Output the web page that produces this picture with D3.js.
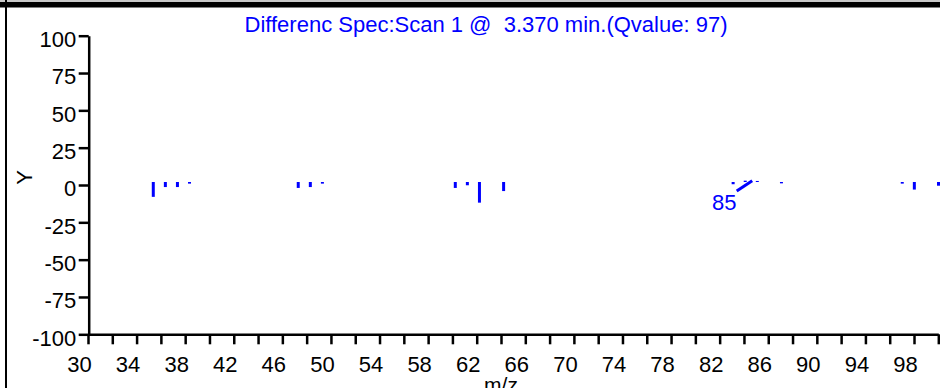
<!DOCTYPE html>
<html>
<head>
<meta charset="utf-8">
<script src="https://cdn.jsdelivr.net/npm/d3@7"></script>
<style>
  html, body { margin: 0; padding: 0; background: #fff; }
  svg { display: block; }
</style>
</head>
<body>
<svg id="chart" width="940" height="388"></svg>
<script>
// Difference spectrum: m/z of each peak and its signed relative intensity
const mzValues   = [36, 37, 38, 39, 48, 49, 50, 61, 62, 63, 65, 84, 85, 86, 88, 98, 99, 101];
const diffValues = [-10, -3.4, -3.4, -1.1, -4, -3.4, -1.1, -4, -2.2, -13.9, -6.1, -1.5, 0.9, 0.7, -0.9, -1.1, -5.1, -2.5];

// Axis ticks
const yTickValues  = [100, 75, 50, 25, 0, -25, -50, -75, -100];
const xMinorTicks  = d3.range(30, 101, 2);
const xTickLabels  = d3.range(30, 99, 4);

// Annotated peak
const labelledPeak = 85;

const titleText = "Differenc Spec:Scan 1 @  3.370 min.(Qvalue: 97)";
const xTitle = "m/z";
const yTitle = "Y";

const BLUE = "#0000ff";
const FONT = "'Liberation Sans', Arial, sans-serif";

const svg = d3.select("#chart");

// Frame: thick rule across the top, thin rule down the left
svg.append("rect").attr("x", 0).attr("y", 0).attr("width", 940).attr("height", 2).attr("fill", "#c8c8c8");
svg.append("rect").attr("x", 0).attr("y", 2).attr("width", 940).attr("height", 5.5).attr("fill", "#000");
svg.append("rect").attr("x", 5).attr("y", 0).attr("width", 2).attr("height", 388).attr("fill", "#000");

// Scales for the axes (labels sit left of their tick marks)
const xAxisScale = d3.scaleLinear().domain([30, 100]).range([79, 929.3]);
const yAxisScale = d3.scaleLinear().domain([-100, 100]).range([334.3, 35.7]);
const tickShift = 9;

// Scales for the spectrum marks
const x = d3.scaleLinear().domain([30, 101]).range([80.8, 938.5]);
const y = d3.scaleLinear().domain([-100, 100]).range([330.6, 33.4]);

// Title
svg.append("text")
  .attr("x", 486).attr("y", 32)
  .attr("text-anchor", "middle")
  .style("white-space", "pre")
  .attr("font-family", FONT).attr("font-size", "22px")
  .attr("fill", BLUE)
  .text(titleText);

// Y axis
const yAxisG = svg.append("g")
  .attr("transform", `translate(88.7,0)`)
  .call(d3.axisLeft(yAxisScale).tickValues(yTickValues).tickSize(10).tickSizeOuter(0).tickFormat(d => String(d)));
yAxisG.select(".domain").attr("stroke", "#000").attr("stroke-width", 2.5);
yAxisG.selectAll(".tick line").attr("stroke", "#000").attr("stroke-width", 2.5);
yAxisG.selectAll(".tick text")
  .attr("x", -12.5).attr("dy", null).attr("y", 10.7)
  .attr("fill", "#000")
  .attr("font-family", FONT).attr("font-size", "22px");

// X axis: tick marks every 2 units
const xTicksG = svg.append("g")
  .attr("transform", `translate(${tickShift},${yAxisScale(-100)})`)
  .call(d3.axisBottom(xAxisScale).tickValues(xMinorTicks).tickSize(10).tickSizeOuter(0).tickFormat(() => ""));
xTicksG.select(".domain").attr("stroke", "#000").attr("stroke-width", 2.5);
xTicksG.selectAll(".tick line").attr("stroke", "#000").attr("stroke-width", 2.5);

// X axis: labels every 4 units
const xLabelsG = svg.append("g")
  .attr("transform", `translate(0,${yAxisScale(-100)})`)
  .call(d3.axisBottom(xAxisScale).tickValues(xTickLabels).tickSize(0).tickFormat(d => String(d)));
xLabelsG.select(".domain").remove();
xLabelsG.selectAll(".tick text")
  .attr("y", 37.4).attr("dy", null)
  .attr("fill", "#000")
  .attr("font-family", FONT).attr("font-size", "22px");

// Axis titles
svg.append("text")
  .attr("transform", `translate(32,177.5) rotate(-90)`)
  .attr("text-anchor", "middle")
  .attr("font-family", FONT).attr("font-size", "22px")
  .attr("fill", "#000")
  .text(yTitle);

svg.append("text")
  .attr("x", 501).attr("y", 392)
  .attr("text-anchor", "middle")
  .attr("font-family", FONT).attr("font-size", "21px")
  .attr("fill", "#000")
  .text(xTitle);

// Spectrum sticks
const peaks = mzValues.map((mz, i) => ({ mz, v: diffValues[i] }));
svg.append("g").selectAll("line")
  .data(peaks)
  .join("line")
  .attr("x1", d => x(d.mz)).attr("x2", d => x(d.mz))
  .attr("y1", y(0)).attr("y2", d => y(d.v))
  .attr("stroke", BLUE).attr("stroke-width", 3);

// Peak annotation with leader line
const lp = peaks.find(d => d.mz === labelledPeak);
svg.append("line")
  .attr("x1", x(lp.mz) + 7).attr("y1", y(lp.v))
  .attr("x2", x(lp.mz) - 8.5).attr("y2", y(-6))
  .attr("stroke", BLUE).attr("stroke-width", 3);
svg.append("text")
  .attr("x", x(lp.mz) - 21).attr("y", y(0) + 28)
  .attr("text-anchor", "middle")
  .attr("font-family", FONT).attr("font-size", "22px")
  .attr("fill", BLUE)
  .text(String(labelledPeak));
</script>
</body>
</html>
